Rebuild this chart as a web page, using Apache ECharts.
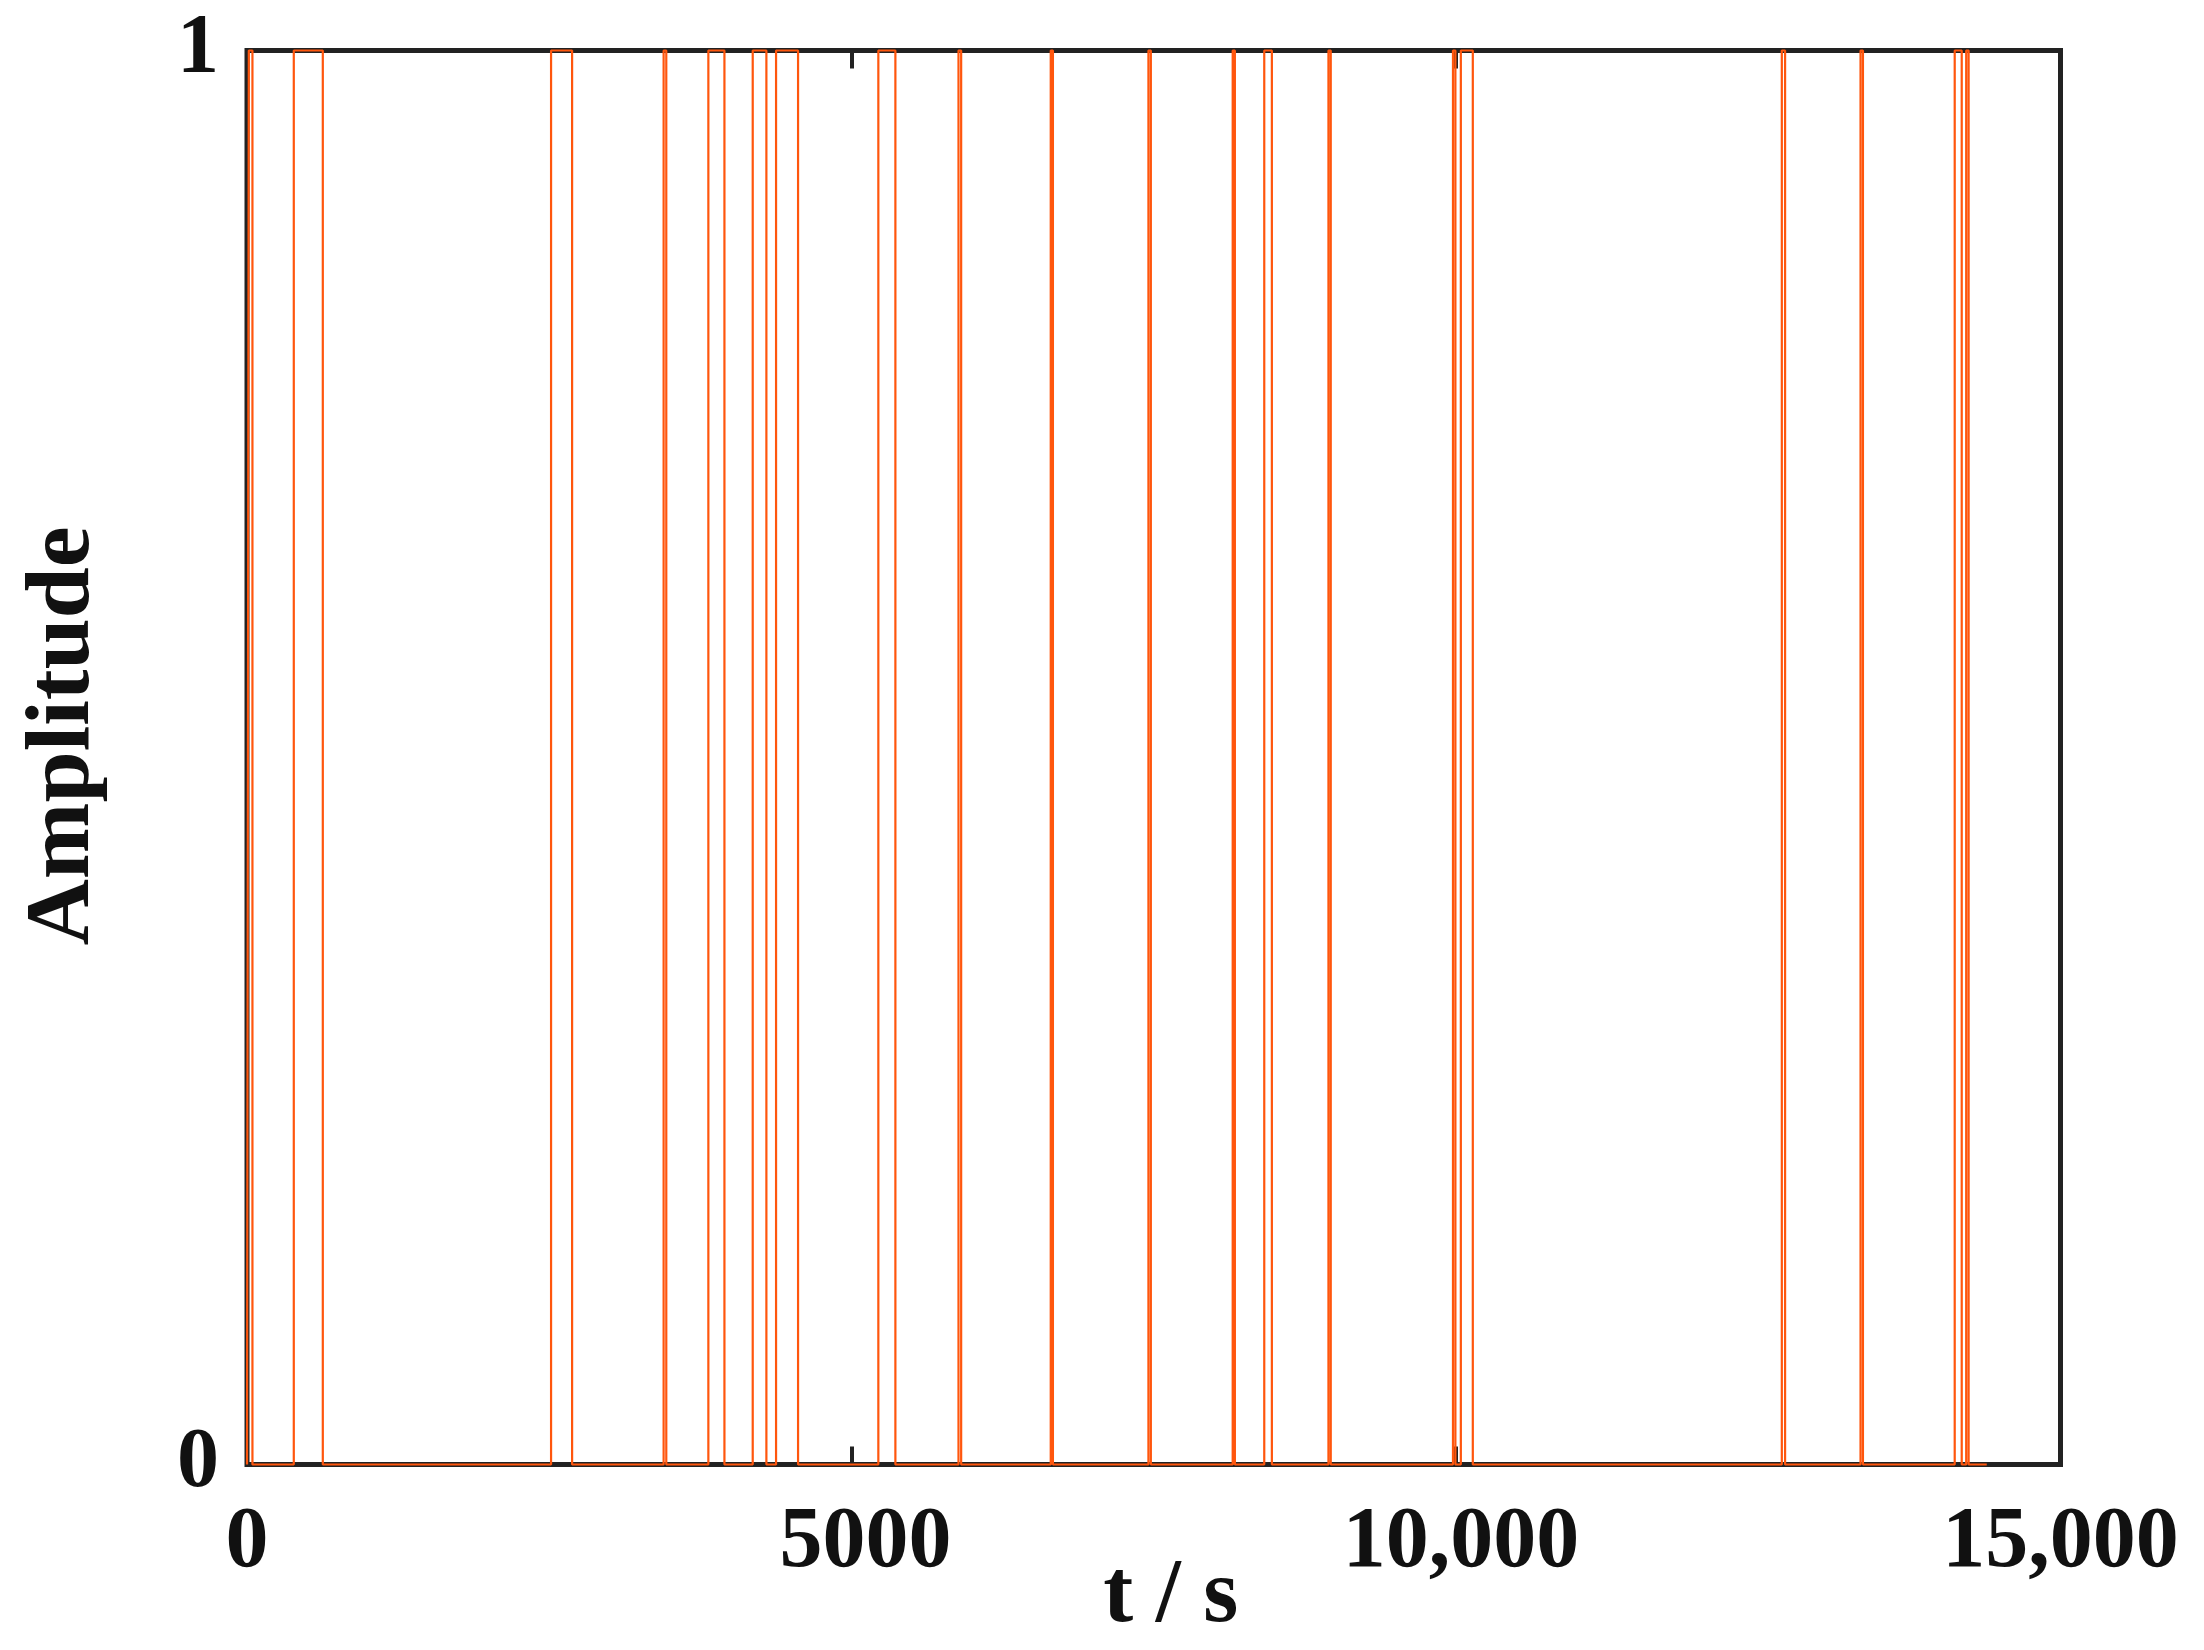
<!DOCTYPE html>
<html>
<head>
<meta charset="utf-8">
<script src="https://cdn.jsdelivr.net/npm/echarts@6/dist/echarts.min.js"></script>
<style>
html,body{margin:0;padding:0;background:#fff;}
#chart{width:2204px;height:1650px;}
</style>
</head>
<body>
<div id="chart"></div>
<script>
// Pulse edges of the binary signal (t in seconds)
const riseTimes = [15, 387, 2515, 3446, 3816, 4183, 4376, 5222, 5885, 6648, 7456, 8153, 8414, 8945, 9975, 10040, 12695, 13346, 14125, 14220];
const fallTimes = [45, 627, 2689, 3468, 3949, 4296, 4558, 5363, 5907, 6666, 7476, 8171, 8477, 8964, 9995, 10139, 12722, 13366, 14183, 14240];
const startTime = 0;
const endTime = 14390;
const lowLevel = 0;
const highLevel = 1;
const xTickValues = [0, 5000, 10000, 15000];
const xTickLabels = ['0', '5000', '10,000', '15,000'];
const yTickLabels = ['0', '1'];

// Build step data: each point is (edge time, new level); step 'end'
const data = [[startTime, lowLevel]];
for (let i = 0; i < riseTimes.length; i++) {
  data.push([riseTimes[i], highLevel]);
  data.push([fallTimes[i], lowLevel]);
}
data.push([endTime, lowLevel]);

const FONT = '"Liberation Serif", "Times New Roman", serif';
const chart = echarts.init(document.getElementById('chart'), null, {renderer: 'canvas'});
// label style keys (small horizontal nudges as seen in the reference)
const labelStyleKeys = ['a', 'b', 'c', 'a'];
const xLabelFmt = v => {
  const i = xTickValues.indexOf(v);
  return i >= 0 ? '{' + labelStyleKeys[i] + '|' + xTickLabels[i] + '}' : '';
};
const labelBase = {fontFamily: FONT, fontWeight: 'bold', fontSize: 86, color: '#111'};

chart.setOption({
  animation: false,
  backgroundColor: '#ffffff',
  grid: {
    left: 247, top: 50.5, right: 143.5, bottom: 185.5,
    outerBoundsMode: 'none', containLabel: false,
    show: true, borderColor: '#222', borderWidth: 5, backgroundColor: 'transparent'
  },
  xAxis: [{
    type: 'value', min: 0, max: 15000, interval: 5000, position: 'bottom',
    name: 't / s', nameLocation: 'middle', nameGap: 88, nameMoveOverlap: false,
    nameTextStyle: {fontFamily: FONT, fontWeight: 'bold', fontSize: 90, color: '#111', padding: [0, 0, 0, 34], verticalAlign: 'top'},
    axisLine: {show: false},
    axisTick: {show: true, inside: true, length: 18, lineStyle: {color: '#222', width: 4}},
    axisLabel: {show: true, margin: 36, formatter: xLabelFmt, ...labelBase,
      rich: {
        a: {...labelBase},
        b: {...labelBase, padding: [0, 0, 0, 28]},
        c: {...labelBase, padding: [0, 0, 0, 10]}
      }},
    splitLine: {show: false}
  }, {
    type: 'value', min: 0, max: 15000, interval: 5000, position: 'top',
    axisLine: {show: false},
    axisTick: {show: true, inside: true, length: 18, lineStyle: {color: '#222', width: 4}},
    axisLabel: {show: false},
    splitLine: {show: false}
  }],
  yAxis: {
    type: 'value', min: 0, max: 1, interval: 1,
    name: 'Amplitude', nameLocation: 'middle', nameGap: 137, nameRotate: 90, nameMoveOverlap: false,
    nameTextStyle: {fontFamily: FONT, fontWeight: 'bold', fontSize: 92, color: '#111', padding: [0, 0, 0, 43]},
    axisLine: {show: false},
    axisTick: {show: false},
    axisLabel: {show: true, margin: 28, fontFamily: FONT, fontWeight: 'bold', fontSize: 84, color: '#111',
      padding: [12, 0, 0, 0],
      formatter: v => yTickLabels[Math.round(v)]},
    splitLine: {show: false}
  },
  series: [{
    type: 'line', step: 'end', data: data, xAxisIndex: 0,
    showSymbol: false, symbol: 'none', clip: false,
    lineStyle: {color: '#ff560d', width: 2.2},
    z: 5
  }]
});
</script>
</body>
</html>
